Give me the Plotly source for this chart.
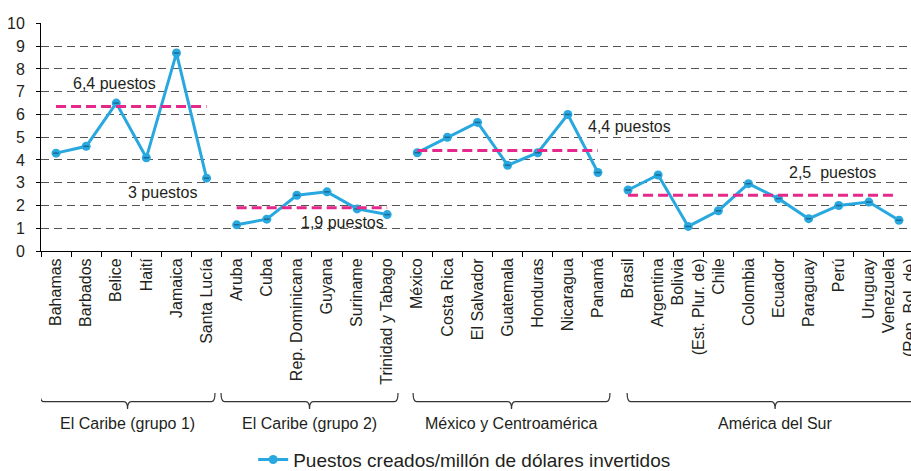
import plotly.graph_objects as go

# ---------------- data ----------------
group_names = ["El Caribe (grupo 1)", "El Caribe (grupo 2)",
               "México y Centroamérica", "América del Sur"]

countries_g1 = ["Bahamas", "Barbados", "Belice", "Haití", "Jamaica", "Santa Lucía"]
values_g1 = [4.3, 4.6, 6.5, 4.1, 8.7, 3.2]

countries_g2 = ["Aruba", "Cuba", "Rep. Dominicana", "Guyana", "Suriname", "Trinidad y Tabago"]
values_g2 = [1.15, 1.4, 2.45, 2.6, 1.85, 1.6]

countries_g3 = ["México", "Costa Rica", "El Salvador", "Guatemala", "Honduras", "Nicaragua", "Panamá"]
values_g3 = [4.32, 5.0, 5.65, 3.77, 4.32, 6.0, 3.45]

countries_g4 = ["Brasil", "Argentina", "Bolivia<br>(Est. Plur. de)", "Chile", "Colombia",
                "Ecuador", "Paraguay", "Perú", "Uruguay", "Venezuela<br>(Rep. Bol. de)"]
values_g4 = [2.68, 3.34, 1.08, 1.77, 2.96, 2.3, 1.42, 2.0, 2.15, 1.35]

group_avg = [6.35, 1.9, 4.42, 2.45]
avg_labels = ["6,4 puestos", "1,9 puestos", "4,4 puestos", "2,5  puestos"]
extra_label = "3 puestos"

y_ticks = list(range(0, 11))
series_name = "Puestos creados/millón de dólares invertidos"

# ---------------- build ----------------
group_countries = [countries_g1, countries_g2, countries_g3, countries_g4]
group_values = [values_g1, values_g2, values_g3, values_g4]

categories = []
starts = []
for cs in group_countries:
    starts.append(len(categories))
    categories.extend(cs)
idx = list(range(len(categories)))

BLUE = "#29a8e0"
DOT = "#1b6a94"
PINK = "#e6288a"
TXT = "#231f20"
FONT = "Liberation Sans, Arial, sans-serif"

fig = go.Figure()

for g, (cs, vs) in enumerate(zip(group_countries, group_values)):
    xs = idx[starts[g]:starts[g] + len(cs)]
    fig.add_trace(go.Scatter(
        x=xs, y=vs, mode="lines+markers", name=series_name,
        legendgroup="s", showlegend=(g == 0),
        line=dict(color=BLUE, width=3),
        marker=dict(symbol="circle", size=9, color=BLUE, line=dict(width=0)),
    ))
    fig.add_trace(go.Scatter(
        x=xs, y=vs, mode="markers", showlegend=False, hoverinfo="skip",
        marker=dict(symbol="line-ew", size=4, color=DOT, line=dict(color=DOT, width=1.5)),
    ))

end_trim = [0, 0, 0, 0.2]
for g, cs in enumerate(group_countries):
    x0 = starts[g]
    x1 = starts[g] + len(cs) - 1 - end_trim[g]
    fig.add_trace(go.Scatter(
        x=[x0, x1], y=[group_avg[g], group_avg[g]], mode="lines",
        showlegend=False, hoverinfo="skip",
        line=dict(color=PINK, width=3, dash="10px,5px"),
    ))

# average annotations
ann_pos = [(1.93, 7.37), (9.53, 1.27), (19.04, 5.48), (25.78, 3.43)]
annotations = []
for (ax, ay), t in zip(ann_pos, avg_labels):
    annotations.append(dict(x=ax, y=ay, xref="x", yref="y", text=t, showarrow=False,
                            font=dict(size=16, color=TXT, family=FONT)))
annotations.append(dict(x=3.55, y=2.59, xref="x", yref="y", text=extra_label,
                        showarrow=False, font=dict(size=16, color=TXT, family=FONT)))

# group brackets
spans = [(-0.53, 5.28), (5.48, 11.36), (11.86, 18.4), (18.97, 28.8)]
y_top, y_line, y_tip, y_lab = -0.623, -0.661, -0.693, -0.757
shapes = []
d = 0.12
for (a, b), name in zip(spans, group_names):
    m = (a + b) / 2
    path = (f"M {a},{y_top} Q {a},{y_line} {a + d},{y_line} "
            f"L {m - d},{y_line} Q {m},{y_line} {m},{y_tip} "
            f"Q {m},{y_line} {m + d},{y_line} "
            f"L {b - d},{y_line} Q {b},{y_line} {b},{y_top}")
    shapes.append(dict(type="path", path=path, xref="x", yref="paper",
                       line=dict(color="#333333", width=1.2)))
    annotations.append(dict(x=m, y=y_lab, xref="x", yref="paper", text=name,
                            showarrow=False, yanchor="middle",
                            font=dict(size=16, color=TXT, family=FONT)))

fig.update_layout(
    width=911, height=471,
    margin=dict(l=41, r=0, t=23, b=220, autoexpand=False),
    paper_bgcolor="white", plot_bgcolor="white",
    font=dict(family=FONT, color=TXT),
    shapes=shapes, annotations=annotations,
    legend=dict(orientation="h", x=0.487, xanchor="center", y=-0.915, yanchor="middle",
                font=dict(size=19, color=TXT, family=FONT), bgcolor="rgba(0,0,0,0)"),
)

fig.update_xaxes(
    automargin=False, ticklabeloverflow="allow",
    range=[-0.5, 28.4], tickmode="array", tickvals=idx, ticktext=categories,
    tickangle=-90, ticks="", showgrid=False, zeroline=False,
    showline=True, linecolor="black", linewidth=1,
    tickfont=dict(size=16, color=TXT, family=FONT),
    minor=dict(tickvals=[i - 0.5 for i in range(len(categories) + 1)],
               ticks="outside", ticklen=5, tickcolor="black", showgrid=False),
)

fig.update_yaxes(
    automargin=False,
    range=[0, 10.02], tickmode="array", tickvals=y_ticks,
    ticks="outside", ticklen=4, tickcolor="black",
    showline=True, linecolor="black", linewidth=1, zeroline=False,
    showgrid=True, gridcolor="#555555", gridwidth=1, griddash="8px,5px",
    tickfont=dict(size=16, color=TXT, family=FONT), ticklabelstandoff=8,
)

fig.write_html("out.html", config={"displayModeBar": False},
               post_script="document.body.style.margin='0px';document.body.style.overflow='hidden';")
